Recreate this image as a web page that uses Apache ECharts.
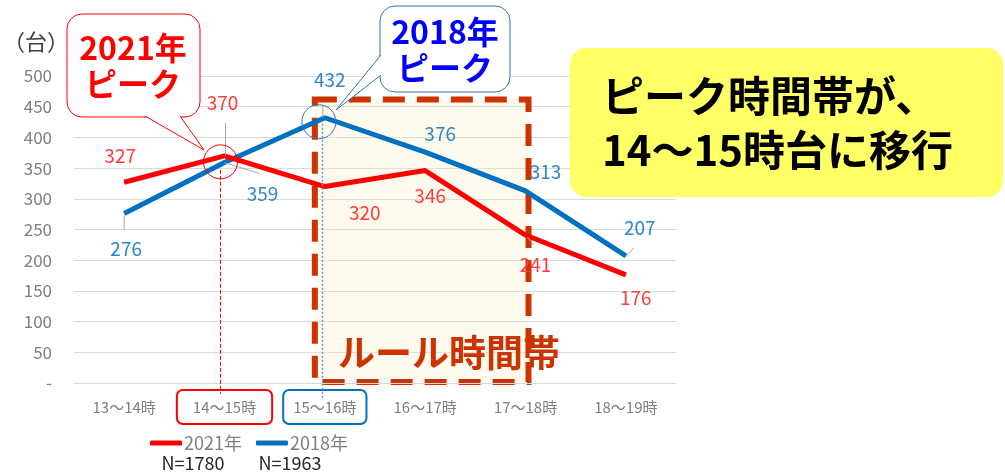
<!DOCTYPE html>
<html>
<head>
<meta charset="utf-8">
<script src="https://cdn.jsdelivr.net/npm/echarts@6/dist/echarts.min.js"></script>
<style>
html, body { margin: 0; padding: 0; background: #fff; }
#main { width: 1005px; height: 475px; }
</style>
</head>
<body>
<div id="main"></div>
<script>
// データ
var categories = ['13〜14時', '14〜15時', '15〜16時', '16〜17時', '17〜18時', '18〜19時'];
var data2021 = [327, 370, 320, 346, 241, 176];
var data2018 = [276, 359, 432, 376, 313, 207];
var seriesNames = ['2021年', '2018年'];
var sampleSizes = ['N=1780', 'N=1963'];

// ラベル位置（点からのずれ）
var off2021 = [[-4, -26], [-2, -53], [40, 26], [5, 25], [10, 30], [10, 23]];
var off2018 = [[2, 35], [38, 31], [5, -38], [15, -18], [20, -19], [14, -28]];

var FONT = "'Noto Sans CJK JP', 'Noto Sans', sans-serif";
var RED = '#FF0000';
var BLUE = '#0070C0';
var RULE = '#CC3300';

function withLabels(values, offs) {
	var out = [];
	for (var i = 0; i < values.length; i++) {
		out.push({
			value : values[i],
			label : { offset : offs[i] }
		});
	}
	return out;
}

var dom = document.getElementById('main');
var myChart = echarts.init(dom);

var option = {
	animation : false,
	textStyle : { fontFamily : FONT },
	grid : { left : 74, right : 329, top : 76, bottom : 92 },
	legend : {
		left : 145,
		top : 429,
		itemWidth : 32,
		itemHeight : 5,
		itemGap : 14,
		icon : 'roundRect',
		data : seriesNames,
		textStyle : { color : '#7F7F7F', fontSize : 18, fontFamily : FONT, padding : [0, 0, 0, -3] }
	},
	xAxis : {
		type : 'category',
		data : categories,
		axisLine : { lineStyle : { color : '#D9D9D9', width : 1 } },
		axisTick : { show : false },
		axisLabel : {
			margin : 7,
			interval : 0,
			formatter : function(v, i) {
				if (i == 1) return '{r|' + v + '}';
				if (i == 2) return '{b|' + v + '}';
				return '{n|' + v + '}';
			},
			rich : {
				n : { color : '#7F7F7F', fontSize : 15, fontFamily : FONT, padding : [10, 0, 9, 0] },
				r : { color : '#7F7F7F', fontSize : 15, fontFamily : FONT, padding : [10, 16, 9, 16],
					borderColor : RED, borderWidth : 2, borderRadius : 6 },
				b : { color : '#7F7F7F', fontSize : 15, fontFamily : FONT, padding : [10, 10, 9, 10],
					borderColor : BLUE, borderWidth : 2, borderRadius : 6 }
			}
		}
	},
	yAxis : {
		type : 'value',
		min : 0,
		max : 500,
		interval : 50,
		axisLine : { show : false },
		axisTick : { show : false },
		splitLine : { lineStyle : { color : '#D9D9D9', width : 1 } },
		axisLabel : {
			margin : 22,
			color : '#7F7F7F',
			fontSize : 17,
			fontFamily : FONT,
			formatter : function(v) { return v === 0 ? '-' : v; }
		}
	},
	series : [
		{
			name : seriesNames[0],
			type : 'line',
			symbol : 'circle',
			symbolSize : 1,
			z : 4,
			lineStyle : { color : RED, width : 5 },
			itemStyle : { color : RED },
			label : { show : true, position : 'inside', color : '#FF3B3B', fontSize : 19, fontFamily : FONT },
			data : withLabels(data2021, off2021)
		},
		{
			name : seriesNames[1],
			type : 'line',
			symbol : 'circle',
			symbolSize : 1,
			z : 3,
			lineStyle : { color : BLUE, width : 5 },
			itemStyle : { color : BLUE },
			label : { show : true, position : 'inside', color : '#2E86C8', fontSize : 19, fontFamily : FONT },
			data : withLabels(data2018, off2018)
		}
	]
};
myChart.setOption(option);

// 注記
function px(i, v) {
	return myChart.convertToPixel({ gridIndex : 0 }, [i, v]);
}
var pRed = px(1, data2021[1]);
var pBlue = px(2, data2018[2]);
var ruleL = px(2, 460);
var ruleR = px(4, 0);
var rx0 = ruleL[0] - 10, ry0 = ruleL[1] - 1, rx1 = ruleR[0] + 3, ry1 = ruleR[1] - 1;

// 吹き出し（角丸の箱＋しっぽ）
function balloon(box, tail, stroke) {
	return [
		{ type : 'rect', z : 8,
			shape : { x : box[0], y : box[1], width : box[2], height : box[3], r : 15 },
			style : { fill : '#fff', stroke : stroke, lineWidth : 1 } },
		{ type : 'polygon', z : 8,
			shape : { points : tail },
			style : { fill : '#fff' } },
		{ type : 'polyline', z : 8,
			shape : { points : tail },
			style : { fill : 'none', stroke : stroke, lineWidth : 1 } }
	];
}

// ラベルの引き出し線（点からのずれ）
function leader(p, a, b) {
	return { type : 'line', z : 5,
		shape : { x1 : p[0] + a[0], y1 : p[1] + a[1], x2 : p[0] + b[0], y2 : p[1] + b[1] },
		style : { stroke : '#A6A6A6', lineWidth : 1 } };
}

var redX = Math.round(pRed[0] - 5) + 0.5;
var blueX = Math.round(pBlue[0] - 3) + 0.5;

var graphics = [
	{ type : 'text', x : 3, y : 42, z : 10,
		style : { text : '（台）', fill : '#404040', fontSize : 22, fontFamily : FONT, verticalAlign : 'middle' } },
	// ルール時間帯
	{ type : 'rect', z : 0, silent : true,
		shape : { x : rx0, y : ry0, width : rx1 - rx0, height : ry1 - ry0 },
		style : { fill : 'rgba(255,240,200,0.3)', stroke : RULE, lineWidth : 6, lineDash : [22, 12] } },
	{ type : 'text', x : 338, y : 353, z : 10,
		style : { text : 'ルール時間帯', fill : RULE, fontSize : 37, fontWeight : 'bold', fontFamily : FONT, verticalAlign : 'middle' } },
	// 補助線
	{ type : 'line', z : 6,
		shape : { x1 : redX, y1 : pRed[1] + 14, x2 : redX, y2 : 394 },
		style : { stroke : '#FF0000', lineWidth : 1, lineDash : [4, 2] } },
	{ type : 'line', z : 6,
		shape : { x1 : blueX, y1 : pBlue[1] + 6, x2 : blueX, y2 : 400 },
		style : { stroke : '#5B9BD5', lineWidth : 1.5, lineDash : [2, 2] } },
	{ type : 'circle', z : 6,
		shape : { cx : pRed[0] - 4, cy : pRed[1] + 6, r : 17 },
		style : { fill : 'none', stroke : RED, lineWidth : 1 } },
	{ type : 'circle', z : 6,
		shape : { cx : pBlue[0] - 6, cy : pBlue[1] + 4, r : 17 },
		style : { fill : 'none', stroke : '#2E75B6', lineWidth : 1 } },
	leader(pRed, [1, -33], [1, 0]),
	leader(px(1, data2018[1]), [0, 0], [35, 11]),
	leader(px(0, data2018[0]), [0, 2], [0, 16]),
	leader(pBlue, [-2, -12], [-2, 0]),
	leader(px(4, data2021[4]), [2, 2], [8, 10]),
	leader(px(5, data2018[5]), [0, 1], [8, -8])
]
.concat(balloon([67, 14, 133, 103], [[145, 116], [204, 150], [180, 116]], RED))
.concat([
	{ type : 'text', x : 133, y : 66, z : 9,
		style : { text : '2021年\nピーク', fill : RED, fontSize : 32, lineHeight : 36, fontWeight : 'bold', fontFamily : FONT,
			align : 'center', verticalAlign : 'middle' } }
])
.concat(balloon([380, 6, 130, 86], [[381, 55], [336, 110], [381, 75]], '#2E75B6'))
.concat([
	{ type : 'text', x : 445, y : 50, z : 9,
		style : { text : '2018年\nピーク', fill : '#0000FF', fontSize : 32, lineHeight : 36, fontWeight : 'bold', fontFamily : FONT,
			align : 'center', verticalAlign : 'middle' } },
	// まとめ
	{ type : 'rect', z : 8,
		shape : { x : 570, y : 48, width : 433, height : 149, r : 16 },
		style : { fill : '#FFFF66' } },
	{ type : 'text', x : 602, y : 123, z : 9,
		style : { text : 'ピーク時間帯が、\n14〜15時台に移行', fill : '#000', fontSize : 42, lineHeight : 54, fontWeight : 'bold', fontFamily : FONT,
			verticalAlign : 'middle' } },
	// N
	{ type : 'text', x : 193, y : 463, z : 10,
		style : { text : sampleSizes[0], fill : '#262626', fontSize : 18, fontFamily : FONT, align : 'center', verticalAlign : 'middle' } },
	{ type : 'text', x : 290, y : 463, z : 10,
		style : { text : sampleSizes[1], fill : '#262626', fontSize : 18, fontFamily : FONT, align : 'center', verticalAlign : 'middle' } }
]);
myChart.setOption({ graphic : graphics });
</script>
</body>
</html>
